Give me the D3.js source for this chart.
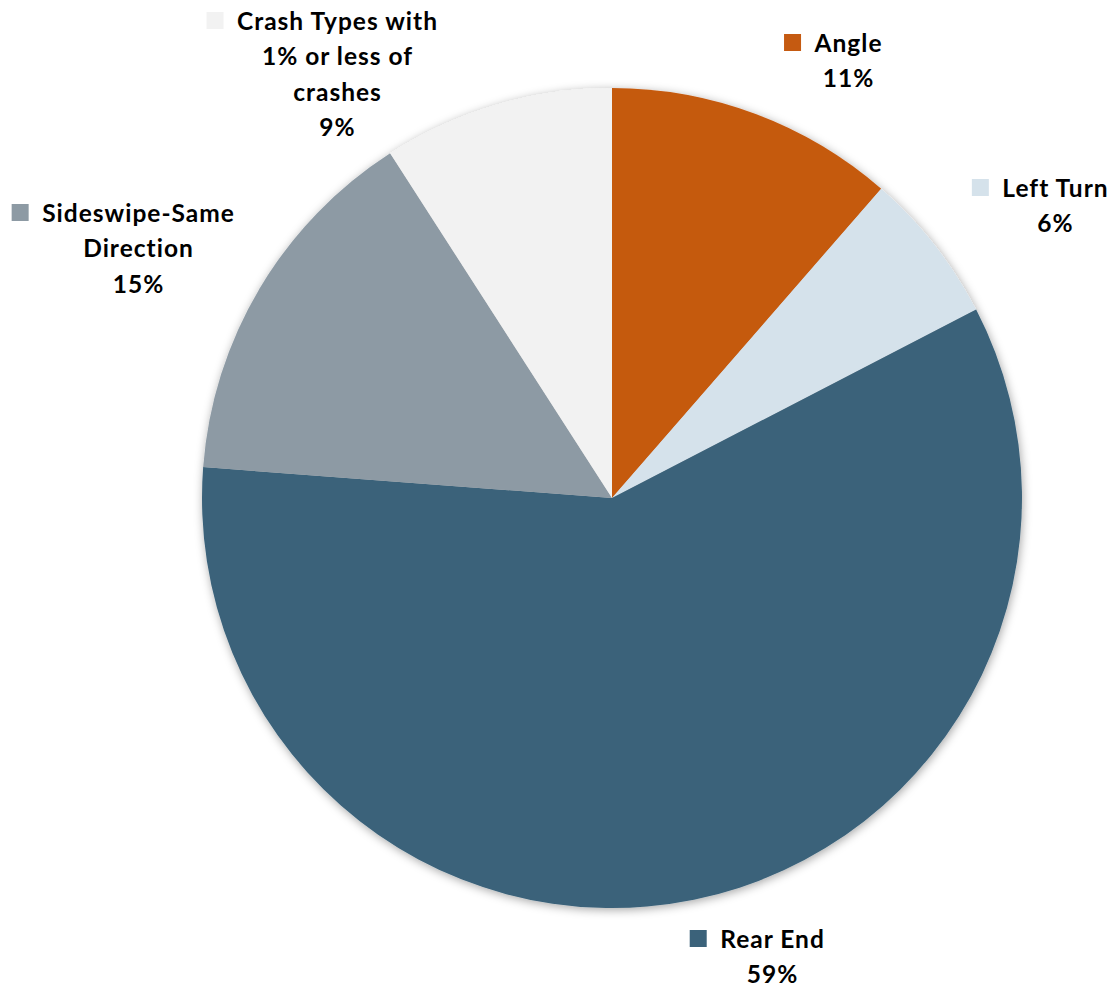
<!DOCTYPE html>
<html>
<head>
<meta charset="utf-8">
<script src="https://cdn.jsdelivr.net/npm/d3@7/dist/d3.min.js"></script>
<style>
  html, body { margin: 0; padding: 0; background: #ffffff; }
  svg { display: block; }
  text { font-family: Lato, "Open Sans", sans-serif; font-weight: 700; fill: #000; }
</style>
</head>
<body>
<svg id="chart" width="1113" height="987"></svg>
<script>
// Crash type shares (percent of crashes)
const categories = ["Angle", "Left Turn", "Rear End", "Sideswipe-Same Direction", "Crash Types with 1% or less of crashes"];
const shares = [11.4, 6.0, 58.8, 14.7, 9.1];
const colors = ["#C55A11", "#D5E2EB", "#3B627A", "#8D9AA4", "#F2F2F2"];
// Label text broken into lines as displayed
const labelLines = [
  ["Angle"],
  ["Left Turn"],
  ["Rear End"],
  ["Sideswipe-Same", "Direction"],
  ["Crash Types with", "1% or less of", "crashes"]
];

// Label block placement: center x and first baseline y
const labelLayout = [
  { x: 848, y: 52 },
  { x: 1055, y: 197 },
  { x: 772, y: 948 },
  { x: 138, y: 222 },
  { x: 337, y: 30 }
];

const cx = 612, cy = 498, radius = 410;
const lineHeight = 35.4;
const fontSize = 24.5;
const letterSpacing = 1;

const svg = d3.select("#chart");

// soft shadow around the pie
const defs = svg.append("defs");
const shadow = defs.append("filter")
  .attr("id", "pieShadow")
  .attr("x", "-10%").attr("y", "-10%")
  .attr("width", "120%").attr("height", "120%");
shadow.append("feDropShadow")
  .attr("dx", 1).attr("dy", 2)
  .attr("stdDeviation", 5)
  .attr("flood-color", "#000")
  .attr("flood-opacity", 0.35);

const data = categories.map((c, i) => ({ category: c, value: shares[i], color: colors[i], lines: labelLines[i], layout: labelLayout[i] }));

const pie = d3.pie().value(d => d.value).sort(null);
const arc = d3.arc().innerRadius(0).outerRadius(radius);

const pieGroup = svg.append("g")
  .attr("transform", `translate(${cx},${cy})`)
  .attr("filter", "url(#pieShadow)");

pieGroup.selectAll("path")
  .data(pie(data))
  .join("path")
  .attr("d", arc)
  .attr("fill", d => d.data.color);

const fmt = v => Math.round(v) + "%";

const labels = svg.append("g").selectAll("g.label")
  .data(data)
  .join("g")
  .attr("class", "label")
  .attr("transform", d => `translate(${d.layout.x},${d.layout.y})`);

labels.each(function(d) {
  const g = d3.select(this);
  const lines = d.lines.concat([fmt(d.value)]);
  const texts = g.selectAll("text")
    .data(lines)
    .join("text")
    .attr("x", letterSpacing / 2)
    .attr("y", (t, i) => i * lineHeight)
    .attr("text-anchor", "middle")
    .attr("font-size", fontSize)
    .attr("letter-spacing", letterSpacing)
    .text(t => t);
  // legend key square to the left of the first line
  const w = texts.node().getComputedTextLength();
  g.append("rect")
    .attr("x", -w / 2 - 13 - 17)
    .attr("y", -18)
    .attr("width", 17)
    .attr("height", 17)
    .attr("fill", d.color);
});
</script>
</body>
</html>
